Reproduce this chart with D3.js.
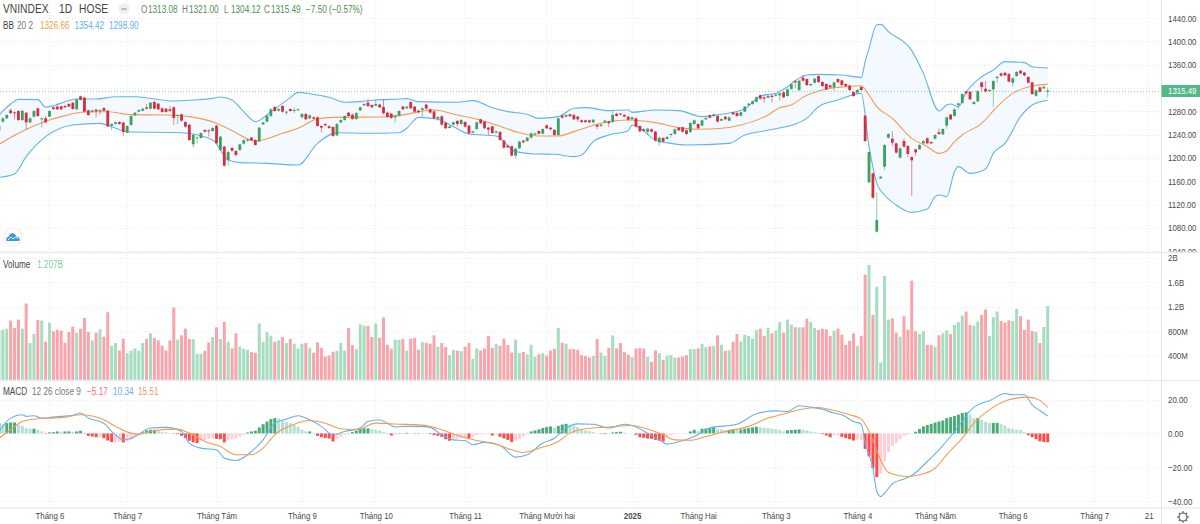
<!DOCTYPE html>
<html>
<head>
<meta charset="utf-8">
<script src="https://cdn.jsdelivr.net/npm/d3@7/dist/d3.min.js"></script>
<style>
html, body { margin: 0; padding: 0; background: #fff; }
svg { display: block; font-family: "Liberation Sans", sans-serif; }
.axis path, .axis line { display: none; }
.axis text { fill: #4a4a4a; font-size: 9.6px; font-family: "Liberation Sans", sans-serif; }
.grid { stroke: #e9e9e9; stroke-dasharray: 1 2; stroke-width: 1; }
</style>
</head>
<body>
<svg id="chart" width="1200" height="524"></svg>
<script>
// candles (index points)
const opens = [1246.8,1262.2,1267.9,1281.6,1278.2,1280.5,1265,1277.6,1261,1270.8,1285,1266,1267.9,1270.8,1286.8,1288,1288.5,1289,1292.5,1294.8,
1283.4,1305.6,1303.4,1281.6,1279.3,1282.8,1279.9,1285.6,1281,1255.3,1258.2,1261.6,1260.5,1243.3,1256.5,1273,1279.3,1281,1286.8,1284.5,
1295.9,1293.1,1285,1284.5,1283.4,1286.8,1271.9,1274.8,1261.6,1257,1223.3,1233.6,1234.2,1247.9,1247.3,1246.2,1255.3,1213.6,1219.3,1196.4,
1217,1211.9,1213.6,1224.5,1229.6,1234.8,1230.7,1228.5,1257.6,1262.2,1271.9,1287.4,1281,1289,1277.6,1283.9,1281,1282.2,1269.6,1275.3,
1267.9,1269.6,1269.6,1254.8,1258.2,1254.2,1253,1238.7,1261,1265,1277.6,1274.2,1266.8,1281.6,1290.2,1294.8,1290.8,1289.6,1291.4,1287.4,
1277.6,1275.9,1269.6,1272.5,
1288,1285.1,1296,1288,1281.1,1282.2,1291.4,1283.4,1279.9,1267.4,1271.4,1260.5,1251.4,1257.1,1263.4,1258.2,1261.6,1255.4,1243.3,1249.6,
1266.2,1262.2,1251.9,1254.2,1243.3,1244.5,1229.6,1221,1219.9,1203.9,1216.5,1229.6,1229,1234.8,1239.9,1246.2,1241.6,1255.9,1251.9,1247.9,
1239.3,1272.5,1270.8,1274.8,1273.7,1270.8,1264.5,1264.5,1264.5,1261.1,1256.5,1254.8,1261.1,1262.8,1261.6,1275.9,1275.9,1273.7,1270.8,1266.2,
1267.9,1254.8,1249.1,1244.5,1249.1,1245.1,1226.8,1234.2,1232.5,1239.3,1241.1,1251.9,1252.5,1247.4,1244.5,1258.2,1258.2,1255.4,1266.2,1273.1,
1271.9,1271.9,1263.9,1270.8,1263.9,1278.2,1277.1,1272.5,1279.4,1290.8,1292.5,1296.5,1307.4,1304,1303.4,1306.8,1306.8,1307.4,1312.5,1306.2,
1318.3,1332,1316.5,
1337.6,1335.3,1324.5,1329,1340.5,1330.2,1326.8,1324.5,1321,1335.3,1333,1326.8,1323.9,1313,1311.9,1321.6,1272.4,1158.1,1173.5,1073.5,
1164.9,1185,1234.7,1233,1225,1200.4,1229,1220.4,1201.5,1214.7,1214.7,1225,1233.6,1227.3,1233,1243.9,1240.4,1255.3,1274.2,1271.9,
1290.7,1294.2,1314.2,1313.6,1292.5,1297,1329.6,1318.7,1314.8,1317.6,1337,1345,1346.2,1343.9,1329,1340.5,1349.6,1346.2,1338.8,1329.6,
1306.7,1321,1319.3,1313.08];
const highs = [1256.5,1269.5,1275,1285,1280,1282,1282.5,1279,1269.5,1282,1286.5,1269.5,1272,1282,1288.5,1293.6,1290,1291,1294,1296,
1302,1307,1305,1283,1283,1284,1283.5,1287,1282.5,1259.4,1262.5,1263,1262,1256,1273,1279,1283.5,1286,1292.5,1296,
1298,1294.5,1286.5,1286,1289,1288.5,1275,1276,1263,1258.5,1241,1237,1244,1249,1249,1253,1257,1238,1221,1212,
1219,1213,1225,1232,1233,1236,1232,1253,1262.5,1274,1285,1289,1285,1290.5,1281,1285,1286.8,1285,1277,1277,
1274.5,1271,1271,1256,1260,1256,1254.5,1260,1266.5,1273,1279,1276,1278.5,1288,1294,1301,1292,1301,1293,1300.5,
1279,1277.5,1274,1282,
1289.5,1289.5,1297.5,1289.5,1282.5,1286.5,1293,1285,1281,1271.5,1273,1262,1255.5,1262.5,1265,1266.5,1263,1257,1247,1262.5,
1267.5,1263.5,1253.5,1255.5,1247,1246,1231,1222.5,1221,1217.5,1229.5,1231,1236,1243.5,1243.5,1247.5,1251,1257.5,1253,1249.5,
1269.5,1274,1275,1276,1275,1272,1266,1266,1266,1267,1258,1258.5,1265.5,1264,1282.2,1277.5,1277,1275,1272,1271,
1269,1256,1250.5,1251.5,1250.5,1246.5,1236.5,1235.5,1237.5,1242.5,1250.5,1253,1254,1249,1261.5,1266,1259.5,1266,1270,1274.5,
1276.5,1273,1268,1272,1271,1279.5,1278.5,1279.5,1289.5,1294.5,1298.5,1305.5,1309,1305.5,1307.5,1308,1310.5,1312,1314,1319,
1328,1333.5,1334,
1342.2,1336.5,1328,1337.5,1342,1332,1328,1326,1331,1336.5,1334.5,1328,1325.5,1314.5,1318,1323,1273.5,1211.5,1175,1140.9,
1169,1223.5,1242.5,1246.1,1226.5,1218,1233.6,1222,1203,1216,1223.5,1230.5,1235,1229,1241,1250.7,1251,1271,1275.5,1285,
1295,1311,1315.5,1315,1297.5,1316,1331,1331.9,1318,1333.5,1340.5,1346.5,1347.5,1345.5,1338,1349,1351,1347.5,1340,1331,
1317.5,1322.5,1324,1321];
const lows = [1245,1260.5,1266.5,1275.3,1266,1263.5,1263.5,1249,1259.5,1269.5,1270.5,1252,1259.5,1269.5,1282.5,1282,1282,1285.5,1286.5,1282.5,
1282,1298.5,1278,1272,1278,1269.6,1273.6,1279.5,1253,1247.9,1257,1257,1238.2,1242,1255,1271.5,1278,1279.5,1283,1283,
1283,1282,1277.5,1277.5,1279,1256.5,1258.2,1262.5,1252,1229,1217.6,1225,1233,1243.5,1236.5,1245,1223.5,1212,1185,1186.7,
1211,1202,1212,1223,1228,1229,1221,1227,1256,1261,1270.5,1279,1279.5,1278,1273.6,1279,1276.5,1281,1268,1265,
1266.5,1266,1253.5,1243.3,1254.5,1250,1236,1237,1259.5,1263.5,1270.5,1265.5,1265.5,1280,1289,1287.5,1285.5,1288,1285.5,1275,
1269,1267,1260.5,1271,
1282,1283.5,1283.5,1278,1276.5,1270.8,1283,1276,1266.5,1263.4,1255.5,1249.5,1250,1255.5,1253.6,1256.5,1252,1240.5,1242,1248,
1258,1249.5,1239.3,1241.5,1242,1229.5,1216,1216.5,1202.5,1198.2,1215,1225,1227.5,1233.5,1238.5,1240,1240,1249.5,1247.5,1238,
1238,1267.5,1269.5,1270,1265,1262.2,1260,1260,1259.5,1259.5,1249.6,1253.5,1259.5,1252.5,1260,1270.5,1273,1269.5,1264,1265,
1252,1244,1245,1239.3,1243.5,1228,1220.5,1226.5,1231,1234.8,1239.5,1246,1243.5,1239.5,1243,1256.5,1249.5,1254,1264.5,1267.5,
1270.5,1260.5,1262.5,1265,1262.5,1273.5,1270.5,1271,1278,1289.5,1291,1295,1300,1294.8,1302,1295.4,1305.5,1298.2,1302.5,1305,
1317,1319.4,1315,
1331,1323.5,1323,1327.5,1328.5,1322,1316,1319.5,1314.8,1328.5,1323.5,1322,1315,1304.5,1310.5,1315,1227.5,1156.5,1130,1072,
1163.5,1179.2,1233,1220.4,1207.5,1199,1218,1201,1135.2,1203.3,1213.5,1223.5,1223.5,1223.5,1231.5,1239.5,1239,1249.6,1265,1270.5,
1283.3,1293,1309.5,1299,1291,1295.5,1313,1312.5,1313.5,1287.9,1329,1339.5,1340,1329.5,1322.2,1339,1343.5,1340,1327.5,1308,
1305,1312,1318,1304.12];
const closes = [1254.8,1267.9,1273.6,1277,1276.5,1265,1281,1261,1267.9,1280.5,1271.9,1267.9,1261,1280.5,1283.9,1283.4,1283.4,1286.8,1288,1283.9,
1300.5,1299.9,1279.3,1273.6,1281.6,1279.9,1282.2,1281,1254.2,1258.2,1261,1258.2,1244.5,1254.8,1271.9,1277.6,1282.2,1284.5,1284.5,1294.8,
1284.5,1283.4,1278.8,1278.8,1280.5,1268.5,1273.6,1263.9,1253.6,1230.7,1239.3,1235.3,1242.8,1245,1245.6,1251.3,1225,1236.5,1186.7,1210,
1212.4,1205,1223.3,1230.2,1231.9,1230.2,1222.2,1251.9,1261,1272.5,1283.4,1280.5,1283.9,1279.3,1279.3,1280.5,1282.2,1283.4,1275.3,1266.2,
1273,1267.3,1254.8,1251.9,1255.9,1251.3,1237.6,1258.2,1265,1271.9,1271.9,1266.8,1277,1286.8,1292.5,1289,1286.8,1292.5,1286.8,1276.5,
1270.2,1268.5,1272.5,1280.5,
1283.4,1288,1285.1,1279.4,1278.2,1285.1,1284.5,1277.7,1267.9,1270.2,1257.1,1250.8,1254.2,1261.1,1258.2,1265.1,1253.6,1242.2,1245.6,1261.1,
1259.4,1250.8,1248.5,1242.8,1245.6,1230.8,1217.6,1218.2,1203.9,1215.9,1227.9,1226.8,1234.8,1242.2,1242.2,1241.6,1249.6,1250.8,1249.1,1239.3,
1267.9,1269.1,1273.7,1271.4,1266.2,1266.2,1261.6,1261.6,1261.1,1265.6,1253.6,1257.1,1263.9,1259.4,1273.7,1271.9,1274.2,1270.8,1265.6,1269.6,
1253.6,1245.6,1246.2,1250.2,1245.1,1229.6,1234.8,1227.9,1235.9,1241.1,1249.1,1247.4,1245.1,1241.1,1259.9,1264.5,1250.8,1264.5,1268.5,1269.1,
1274.8,1262.2,1266.8,1266.2,1269.6,1274.8,1271.9,1278.2,1288,1293.1,1297.1,1304,1301.7,1301.7,1306.2,1304.5,1309.1,1310.8,1304,1317.7,
1326.3,1329.7,1332.5,
1332.5,1325,1326.8,1335.9,1330.2,1323.3,1317.6,1321,1329.6,1330.2,1325,1323.3,1316.5,1306.2,1316.5,1316.5,1229,1210.1,1131.8,1093.5,
1167.8,1222.1,1241,1226.1,1209,1216.4,1219.3,1206.7,1195.8,1209.5,1222.1,1229,1225,1225,1239.3,1241,1249.6,1269.6,1266.1,1283.3,
1293.6,1309.6,1310.7,1300.5,1295.9,1314.8,1321.6,1314.2,1316.5,1331.9,1339.3,1341,1341.6,1330.8,1336.5,1347.3,1345,1341.6,1329,1309.6,
1315.9,1313.6,1322.2,1315.49];

// volume in millions, one per bar
const volumes = [795,822,838,970,849,986,838,1249,603,756,981,970,625,937,795,822,806,608,784,871,
773,838,1014,784,647,773,827,707,1107,559,603,482,674,438,477,515,477,603,674,762,
685,647,559,482,647,1184,658,729,838,669,669,427,427,477,614,701,860,669,948,625,
515,762,548,510,493,455,444,921,625,784,723,625,647,701,603,669,592,515,592,603,
526,444,614,526,384,400,460,477,603,482,849,570,504,910,888,882,701,921,690,1019,
575,510,658,658,
674,482,674,685,493,619,608,592,729,543,603,537,406,493,482,471,543,603,345,515,
482,515,718,526,592,559,674,570,449,658,438,460,416,575,378,422,438,400,482,510,
849,608,592,504,504,493,406,395,367,395,669,449,395,526,729,515,603,455,416,378,
515,521,515,378,296,482,438,329,395,406,367,367,384,406,504,504,515,592,537,548,
559,729,575,477,482,625,751,630,740,718,674,817,838,718,849,762,806,948,773,986,
904,860,860,
860,1003,948,849,817,838,827,718,806,838,740,575,641,762,559,718,1721,1880,1063,1523,
285,1699,986,1008,773,707,1041,822,1622,795,751,795,575,570,543,729,762,806,751,899,
943,1052,1118,899,888,954,1063,1151,718,1030,1118,964,937,975,964,1162,1041,817,986,800,
784,603,866,1207];

// MACD histogram, one per bar
const macdHist = [6.1,5.5,6.1,6.5,6.5,5.1,4.5,3.2,2.8,2.8,2.2,1.2,-0.2,0.6,0.8,1.2,1,1.2,1.2,0.8,
1.2,1.6,-0.2,-1.4,-1.8,-2.2,-2.2,-2.8,-4.2,-5.1,-5.1,-4.9,-5.3,-4.9,-3.8,-2.2,-0.8,0.6,1.8,2.2,
2.2,1.6,0.8,0.6,0.2,-0.2,-0.4,-1.4,-2.8,-4.3,-5.3,-5.7,-4.2,-3.8,-3.2,-3,-3.2,-3.4,-5.3,-4,
-3.4,-3,-1.8,-0.8,0.6,1.2,1.6,3.6,5.5,7.1,8.5,9.1,8.9,7.7,6.7,6.1,5.1,4,2.2,1.2,
1.2,0.2,-1.4,-2.2,-2.6,-3,-4.7,-3.4,-2.2,-0.8,0.2,0.8,1.6,2.8,3,3,2.6,2.2,1.8,0.8,
-0.2,-1.2,-0.8,0.2,
0.2,0.4,0.2,0.2,-0.2,-0.2,-0.2,-0.4,-1,-1.4,-2,-3.4,-4.3,-3.4,-3,-2.8,-2.8,-3,-1.8,-1,
-0.6,-0.4,-0.4,-1.2,-0.8,-2,-3,-3.8,-5.1,-4.3,-3.4,-1.8,-0.6,1.2,1.8,2.4,3.2,3.8,4.2,3.4,
4.5,5.3,5.7,5.1,4.7,3.8,2.6,1.8,1.4,0.8,0.2,-0.2,-0.4,-0.2,0.6,0.8,1,0.6,0.2,0,
-0.8,-2.2,-2.6,-3,-3.2,-3.8,-4.3,-4.7,-1.8,-1,-0.4,-0.2,-0.1,-0.1,1.2,2.2,1.4,2.8,3,3.2,
4,2.8,2.4,2,2.2,2.4,2.2,2.4,2.8,3.2,3.6,4,3.6,3.4,3.2,2.8,2.6,2,1.2,1.8,
2,2.2,2.4,
2.2,1.8,1.2,0.8,0.4,-0.4,-1.2,-2.2,-1.2,-1,-2,-2.8,-3.4,-4.2,-3.8,-3.8,-9.1,-13.6,-20.6,-25.9,
-23.7,-16.6,-10.9,-7.3,-5.7,-3.4,-1.4,-0.6,-0.4,1,2.6,4.2,5,5.7,6.5,7.1,7.7,9.1,9.7,10.3,
11.1,12.1,12.5,11.1,9.1,9.1,8.1,6.9,6.3,6.3,6.3,5.5,4.7,3.2,2.8,2.2,2,0.8,-1,-2.2,
-3.4,-4.7,-5.1,-5.17];

// Bollinger bands, read at the bars where each line bends
const upperBars = [0,3,5,10,12,14,20,25,30,35,40,45,50,55,57,60,63,66,70,75,77,80,85,89,93,97,103,105,108,118,122,127,131,136,139,144,148,151,157,162,163,169,175,181,186,192,196,200,203,205,208,211,217,222,223,224,226,227,229,235,238,242,244,245,247,249,253,256,259,264,266,270];
const upperVals = [1273.6,1292.5,1300.5,1300,1287.3,1289.6,1301,1301,1305,1305,1301,1297.6,1299.4,1302.2,1304.5,1299.4,1279.3,1262.2,1279.3,1303.4,1312.5,1310.2,1304,1295.4,1296.5,1299.4,1301,1301.7,1296.5,1295.4,1298.2,1286.2,1279.4,1274.8,1267.9,1270.8,1285.1,1286.2,1281.1,1282.2,1278.2,1282.2,1281.1,1270.8,1274.8,1283.9,1306.2,1310.8,1322.2,1332.5,1342.2,1343.3,1342.2,1338.2,1365,1388,1428.5,1429.1,1416.5,1384,1345,1280.4,1290.7,1292.5,1287.9,1312.5,1339.3,1350.8,1365.1,1363.4,1356.5,1354.42];
const lowerBars = [0,4,7,12,19,26,29,33,47,55,59,62,69,77,82,87,95,103,105,108,113,117,121,128,133,138,143,148,150,153,157,162,163,165,169,173,177,188,192,197,200,205,208,211,216,222,224,226,228,231,235,239,241,242,244,246,247,250,254,256,259,263,266,270];
const lowerVals = [1166.7,1172.4,1202.2,1236.5,1256.5,1259.3,1253.6,1245,1243.3,1230.7,1196.4,1191.9,1190.7,1187.9,1225,1243.3,1242.2,1243.3,1250.8,1269.6,1266.2,1253.6,1241.1,1237.6,1210.8,1206.8,1206.2,1202.2,1205,1227.9,1239.3,1246.8,1256.5,1250.8,1230.8,1225,1222.2,1225,1239.3,1246.2,1250,1258,1267.9,1287.9,1299.3,1310.7,1219.3,1156.4,1136.4,1119.2,1106.6,1112.3,1133.5,1136.4,1133.5,1176.4,1185,1173.5,1181,1207.8,1225,1270.7,1290.7,1298.9];
const basisBars = [0,5,11,17,22,28,34,43,49,56,60,66,73,77,82,86,98,103,112,118,124,128,133,139,144,148,155,162,169,175,180,186,191,198,201,204,207,211,216,222,224,226,230,235,239,242,244,246,248,253,257,261,266,270];
const basisVals = [1223.3,1242.2,1260.5,1272.5,1278.8,1279.3,1274.2,1273.6,1270.8,1259.3,1246.8,1229,1242.2,1250.8,1267.3,1269.6,1270.2,1273,1282.2,1273.7,1265.1,1256.5,1245.1,1237.6,1237.6,1245.1,1259.4,1265.1,1260.5,1251.9,1249.1,1250.8,1256.5,1273.7,1286.2,1290.7,1303.9,1314.7,1321,1323.9,1307.9,1287.9,1267.9,1233.6,1219.3,1207.8,1212.4,1227.8,1239.3,1259.3,1287.9,1310.7,1323.3,1326.66];

// MACD and signal lines
const macdBars = [0,3,6,7,9,11,13,16,19,21,23,27,29,32,35,39,43,47,49,52,56,58,61,65,68,71,74,77,80,83,86,89,93,95,98,100,102,104,108,111,114,117,120,122,125,129,133,136,140,143,146,149,153,157,161,163,167,170,172,176,179,183,190,195,200,203,206,209,212,215,217,220,222,223,225,226,227,228,230,233,235,239,242,245,248,250,253,255,259,261,264,266,268,270];
const macdVals = [1.2,9.1,11.1,10.1,10.5,9.1,9.5,10.1,10.7,12.1,9.1,6.1,1.2,-3.8,-1.8,3.2,3.6,1.2,-5.7,-8.7,-9.7,-14.6,-16,-10.7,-3.8,6.1,8.5,10.5,8.1,4.2,-0.8,1.2,3.2,7.1,8.1,6.1,3.8,4.2,4.2,3.6,-0.8,-3.8,-4.2,-6.7,-5.3,-7.1,-14,-12.6,-5.7,-2.8,3.2,5.7,5.5,3.2,5.5,4.7,0.2,-3.8,-6.3,-4.3,-1.8,3.2,5.5,11.7,13.4,13,16.4,15.6,14.4,12.1,11.1,7.1,5.5,-5.7,-20.6,-34.4,-37.4,-35.4,-29.8,-26.9,-24.9,-16.6,-9.7,-1.8,7.1,13.4,18,19.4,23.7,22.9,22.9,17,13.6,10.34];
const signalBars = [0,3,6,10,13,17,21,27,30,34,36,40,46,49,53,57,61,65,68,71,76,80,84,88,92,97,103,108,111,114,119,123,127,132,135,139,144,147,151,157,163,166,171,174,178,182,187,193,198,202,206,211,215,219,222,224,227,229,234,237,241,244,248,251,255,260,265,268,270];
const signalVals = [-2.8,2.2,7.1,8.7,9.1,9.7,11.1,8.1,4.2,0.2,-0.4,1.8,2.6,0.2,-4.7,-7.7,-12.6,-12.6,-8.7,-0.8,5.5,7.7,6.1,2.8,2.2,6.1,5.5,5.1,4.2,2.2,-1.8,-4.2,-5.7,-9.7,-11.3,-8.7,-4.7,0.2,2.8,3.8,4.7,3.2,-0.8,-3.8,-4,-1.8,1.2,4.2,9.1,11.5,14,15.4,13.6,11.1,8.5,1.2,-15.6,-23.1,-25.5,-24.5,-20.6,-12.6,-2.8,6.1,14,20,21.5,19.6,15.51];

// axes
const priceTicks = [1040,1080,1120,1160,1200,1240,1280,1320,1360,1400,1440];
const volumeTicks = [400,800,1200,1600,2000];
const volumeTickLabels = ['400M','800M','1.2B','1.6B','2B'];
const macdTicks = [-40,-20,0,20];
const monthBars = [13,33,56,78,97,120,141,163,180,200,221,241,261,282,296];
const monthLabels = ['Tháng 6','Tháng 7','Tháng Tám','Tháng 9','Tháng 10','Tháng 11','Tháng Mười hai','2025','Tháng Hai','Tháng 3','Tháng 4','Tháng Năm','Tháng 6','Tháng 7','21'];
const lastClose = 1315.49;

const UP = '#3e9f60', DOWN = '#d32f3f';
const VOL_UP = '#a6dcc0', VOL_DOWN = '#f9a4aa';
const BLUE = '#62b2f2', ORANGE = '#f59a50';
const plotRight = 1161.5;

const svg = d3.select('#chart');
const x = d3.scaleLinear().domain([0, 270]).range([-1, 1047.7]);
const priceY = d3.scaleLinear().domain([1040, 1440]).range([251.2, 18]);
const volY = d3.scaleLinear().domain([0, 2000]).range([380, 257.5]);
const macdY = d3.scaleLinear().domain([-40, 20]).range([501, 399.7]);

svg.append('defs').append('clipPath').attr('id', 'plot').append('rect').attr('width', plotRight).attr('height', 508);

// gridlines
const grid = svg.append('g');
monthBars.forEach(b => grid.append('line').attr('class', 'grid').attr('x1', x(b)).attr('x2', x(b)).attr('y1', 0).attr('y2', 508));
const hgrid = (vals, scale) => vals.forEach(v => grid.append('line').attr('class', 'grid')
  .attr('x1', 0).attr('x2', plotRight).attr('y1', Math.round(scale(v)) + 0.5).attr('y2', Math.round(scale(v)) + 0.5));
hgrid(priceTicks, priceY);
hgrid(volumeTicks, volY);
hgrid(macdTicks, macdY);

const plot = svg.append('g').attr('clip-path', 'url(#plot)');

const lineOf = (bars, scale) => d3.line().x((v, i) => x(bars[i])).y(v => scale(v));

// bollinger fill and lines
const bandTop = upperVals.map((v, i) => [x(upperBars[i]), priceY(v)]);
const bandBottom = lowerVals.map((v, i) => [x(lowerBars[i]), priceY(v)]).reverse();
plot.append('path').attr('d', 'M' + bandTop.concat(bandBottom).join('L') + 'Z').attr('fill', '#f3f9fe');
const drawLine = (bars, vals, scale, color) => plot.append('path').datum(vals)
  .attr('d', lineOf(bars, scale).curve(d3.curveMonotoneX))
  .attr('fill', 'none').attr('stroke', color).attr('stroke-width', 1.1);
drawLine(upperBars, upperVals, priceY, BLUE);
drawLine(lowerBars, lowerVals, priceY, BLUE);
drawLine(basisBars, basisVals, priceY, ORANGE);

// last price line
plot.append('line').attr('x1', 0).attr('x2', plotRight)
  .attr('y1', Math.round(priceY(lastClose)) + 0.5).attr('y2', Math.round(priceY(lastClose)) + 0.5)
  .attr('stroke', '#8fcfae').attr('stroke-dasharray', '1 2');

// candles
const candle = plot.append('g').selectAll('g').data(opens).join('g');
const isUp = i => closes[i] >= opens[i];
candle.append('line')
  .attr('x1', (d, i) => x(i)).attr('x2', (d, i) => x(i))
  .attr('y1', (d, i) => priceY(highs[i])).attr('y2', (d, i) => priceY(lows[i]))
  .attr('stroke', (d, i) => isUp(i) ? UP : DOWN).attr('stroke-opacity', 0.55);
candle.append('rect')
  .attr('x', (d, i) => x(i) - 1.4).attr('width', 2.8)
  .attr('y', (d, i) => priceY(Math.max(opens[i], closes[i])))
  .attr('height', (d, i) => Math.max(1, Math.abs(priceY(opens[i]) - priceY(closes[i]))))
  .attr('fill', (d, i) => isUp(i) ? UP : DOWN);

// volume
plot.append('g').selectAll('rect').data(volumes).join('rect')
  .attr('x', (d, i) => x(i) - 1.5).attr('width', 3)
  .attr('y', d => volY(d)).attr('height', d => volY(0) - volY(d))
  .attr('fill', (d, i) => isUp(i) ? VOL_UP : VOL_DOWN);

// macd histogram, shade follows the change from the previous bar
const histColor = (v, i) => {
  const rising = i === 0 || v >= macdHist[i - 1];
  if (v >= 0) return rising ? '#4bab78' : '#b6e0d3';
  return rising ? '#ffcdd2' : '#ff4a4a';
};
plot.append('g').selectAll('rect').data(macdHist).join('rect')
  .attr('x', (d, i) => x(i) - 1.5).attr('width', 3)
  .attr('y', d => Math.min(macdY(d), macdY(0)))
  .attr('height', d => Math.abs(macdY(d) - macdY(0)))
  .attr('fill', histColor);
drawLine(macdBars, macdVals, macdY, BLUE);
drawLine(signalBars, signalVals, macdY, ORANGE);

// axes
const minus = s => s.replace('-', '−');
svg.append('g').attr('class', 'axis').attr('transform', `translate(${plotRight},0)`)
  .call(d3.axisRight(priceY).tickValues(priceTicks).tickSize(0).tickPadding(6.5).tickFormat(d3.format('.2f')));
// the volume pane covers the lower half of the 1040 label
svg.append('rect').attr('x', plotRight).attr('y', 252).attr('width', 39).attr('height', 10).attr('fill', '#fff');
svg.append('g').attr('class', 'axis').attr('transform', `translate(${plotRight},0)`)
  .call(d3.axisRight(volY).tickValues(volumeTicks).tickSize(0).tickPadding(6.5).tickFormat((d, i) => volumeTickLabels[i]));
svg.append('g').attr('class', 'axis').attr('transform', `translate(${plotRight},0)`)
  .call(d3.axisRight(macdY).tickValues(macdTicks).tickSize(0).tickPadding(6.5).tickFormat(d => minus(d3.format('.2f')(d))));
const timeAxis = svg.append('g').attr('class', 'axis').attr('transform', 'translate(0,507)')
  .call(d3.axisBottom(x).tickValues(monthBars).tickSize(0).tickPadding(5).tickFormat((d, i) => monthLabels[i]));
timeAxis.selectAll('text').filter(d => d === 163).attr('font-weight', 'bold');

// pane separators and axis border
[252.5, 380.5, 508].forEach(y => svg.append('line').attr('x1', 0).attr('x2', 1200).attr('y1', y).attr('y2', y)
  .attr('stroke', '#ececec').attr('stroke-width', 1.5));
svg.append('line').attr('x1', plotRight).attr('x2', plotRight).attr('y1', 0).attr('y2', 524).attr('stroke', '#e4e4e4');

// last price label
svg.append('rect').attr('x', plotRight).attr('y', 85).attr('width', 39).attr('height', 12).attr('fill', '#53b987');
svg.append('text').attr('x', 1168).attr('y', priceY(lastClose) + 3.5).attr('fill', '#fff').attr('font-size', 9.6).text(lastClose.toFixed(2));

// legends
const label = (px, py, txt, color, size = 10) => svg.append('text').attr('x', px).attr('y', py)
  .attr('fill', color).attr('font-size', size).text(txt);
label(3, 13, 'VNINDEX', '#444', 12.5);
label(59, 13, '1D', '#444', 12.5);
label(79, 13, 'HOSE', '#444', 12.5);
svg.append('circle').attr('cx', 124).attr('cy', 9).attr('r', 5.5).attr('fill', '#eeeeee');
svg.append('line').attr('x1', 121.5).attr('x2', 126.5).attr('y1', 9).attr('y2', 9).attr('stroke', '#888');
const OHLC_GREEN = '#4f8f4f';
[[141, 'O', '1313.08'], [182, 'H', '1321.00'], [224, 'L', '1304.12'], [264, 'C', '1315.49']].forEach(([px, k, v]) => {
  label(px, 13, k, '#777');
  label(px + 7, 13, v, OHLC_GREEN);
});
label(306, 13, '−7.50 (−0.57%)', OHLC_GREEN);
label(3, 29, 'BB', '#444');
label(17, 29, '20 2', '#777');
label(40, 29, '1326.66', ORANGE);
label(74.5, 29, '1354.42', BLUE);
label(109, 29, '1298.90', BLUE);
label(3, 268, 'Volume', '#444');
label(37, 268, '1.207B', '#7fcfa5');
label(3, 395, 'MACD', '#444');
label(32, 395, '12 26 close 9', '#777');
label(87, 395, '−5.17', '#ff6b6b');
label(113, 395, '10.34', BLUE);
label(138, 395, '15.51', ORANGE);

// the reference type is narrower than any installed font, so squeeze it
svg.selectAll('text').each(function () {
  d3.select(this).attr('textLength', this.getComputedTextLength() * 0.82).attr('lengthAdjust', 'spacingAndGlyphs');
});

// logo badge
const logo = svg.append('g').attr('transform', 'translate(13,237)');
logo.append('circle').attr('r', 9).attr('fill', '#fff').attr('stroke', '#eeeeee').attr('stroke-width', 1.2);
logo.append('path').attr('d', 'M-6.5 4 Q-7.5 0 -4 -0.5 Q-3 -4.5 1 -3.5 Q3 -2 3.5 -0.5 Q7.5 0 6.5 4 Z').attr('fill', '#3f95dd');
logo.append('path').attr('d', 'M-5 3 L-2 0 L0.5 2 L3 -0.5 L5 2').attr('fill', 'none').attr('stroke', '#fff').attr('stroke-width', 1);

// settings gear
const gear = svg.append('g').attr('transform', 'translate(1183,517)');
gear.append('circle').attr('r', 4).attr('fill', 'none').attr('stroke', '#555').attr('stroke-width', 1.1);
d3.range(8).forEach(k => gear.append('line').attr('x1', 4).attr('x2', 6).attr('stroke', '#555')
  .attr('transform', `rotate(${k * 45})`));
</script>
</body>
</html>
